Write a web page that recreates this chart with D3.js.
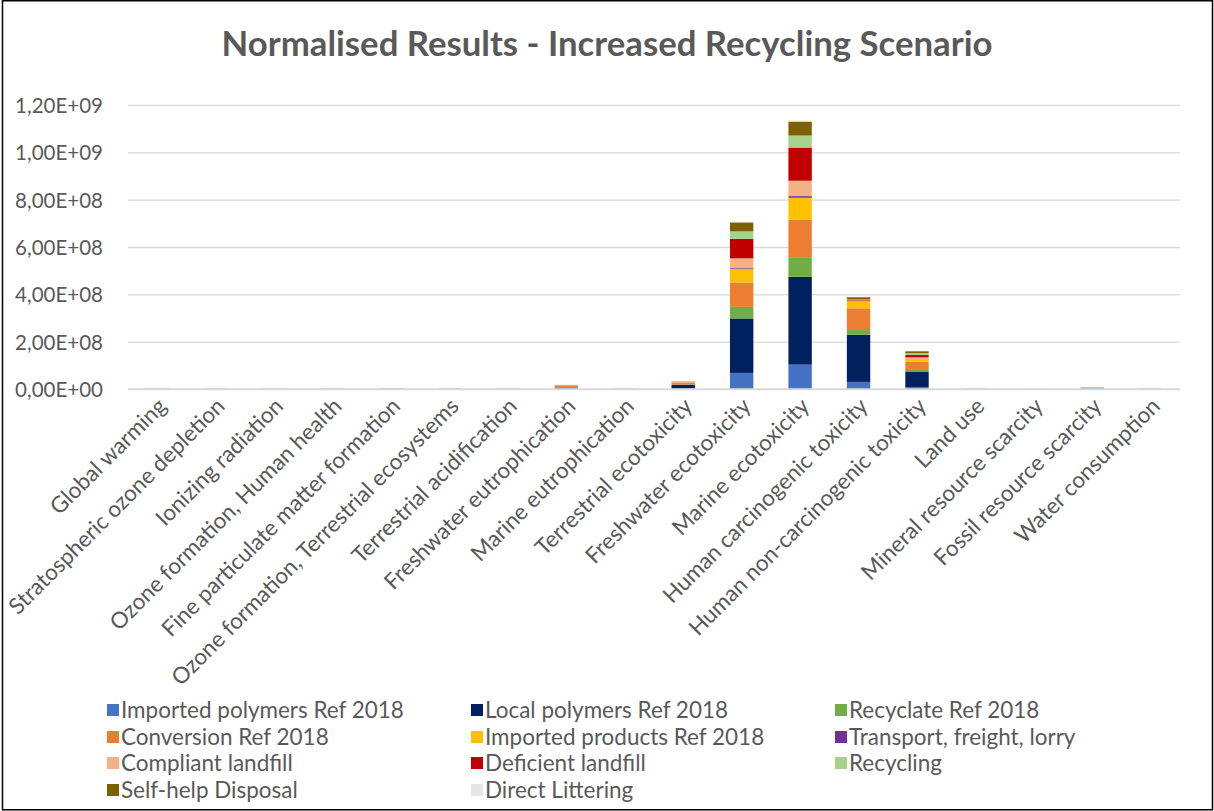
<!DOCTYPE html>
<html>
<head>
<meta charset="utf-8">
<script src="https://cdn.jsdelivr.net/npm/d3@7"></script>
<style>
  html, body { margin: 0; padding: 0; background: #fff; }
  svg { display: block; }
</style>
</head>
<body>
<svg id="chart" width="1214" height="811"></svg>
<script>
// ---------------- DATA ----------------
const categories = [
  "Global warming",
  "Stratospheric ozone depletion",
  "Ionizing radiation",
  "Ozone formation, Human health",
  "Fine particulate matter formation",
  "Ozone formation, Terrestrial ecosystems",
  "Terrestrial acidification",
  "Freshwater eutrophication",
  "Marine eutrophication",
  "Terrestrial ecotoxicity",
  "Freshwater ecotoxicity",
  "Marine ecotoxicity",
  "Human carcinogenic toxicity",
  "Human non-carcinogenic toxicity",
  "Land use",
  "Mineral resource scarcity",
  "Fossil resource scarcity",
  "Water consumption"
];

const seriesNames = [
  "Imported polymers Ref 2018",
  "Local polymers Ref 2018",
  "Recyclate Ref 2018",
  "Conversion Ref 2018",
  "Imported products Ref 2018",
  "Transport, freight, lorry",
  "Compliant landfill",
  "Deficient landfill",
  "Recycling",
  "Self-help Disposal",
  "Direct Littering"
];

const seriesColors = [
  "#4472C4", "#002060", "#70AD47", "#ED7D31", "#FFC000", "#7030A0",
  "#F4B183", "#C00000", "#A9D18E", "#7F6000", "#E7E6E6"
];

// values per series, one per category (same order as categories)
const importedPolymers = [3e5, 2e5, 1e5, 3e5, 4e5, 3e5, 3e5, 2e6, 2e5, 4.2e6, 6.8e7, 1.03e8, 3.0e7, 0.8e7, 2e5, 1e5, 8e5, 2e5];
const localPolymers    = [6e5, 4e5, 3e5, 6e5, 8e5, 6e5, 6e5, 4e6, 4e5, 1.4e7, 2.30e8, 3.71e8, 1.99e8, 6.6e7, 4e5, 1e5, 2e6, 5e5];
const recyclate        = [1e5, 1e5, 1e5, 1e5, 2e5, 1e5, 1e5, 1e6, 1e5, 1e6, 4.9e7, 8.0e7, 2.0e7, 1.0e7, 1e5, 0, 3e5, 1e5];
const conversion       = [5e5, 3e5, 2e5, 5e5, 7e5, 5e5, 5e5, 8e6, 3e5, 8e6, 1.03e8, 1.61e8, 9.2e7, 3.1e7, 3e5, 1e5, 1.5e6, 5e5];
const importedProducts = [2e5, 2e5, 1e5, 2e5, 3e5, 2e5, 2e5, 1e6, 2e5, 1e6, 5.8e7, 9.3e7, 3.0e7, 1.1e7, 2e5, 1e5, 6e5, 2e5];
const transport        = [5e4, 2e4, 1e4, 5e4, 5e4, 5e4, 5e4, 1e5, 5e4, 2e5, 3e6, 7e6, 1e6, 5e5, 2e4, 1e4, 1e5, 2e4];
const compliantLandfill= [1e5, 1e5, 1e5, 1e5, 2e5, 1e5, 1e5, 3e5, 2e5, 2e6, 4.1e7, 6.5e7, 2e6, 7e6, 2e5, 0, 2e5, 1e5];
const deficientLandfill= [1e5, 1e5, 1e5, 1e5, 2e5, 1e5, 1e5, 3e5, 2e5, 5e5, 8.3e7, 1.40e8, 2e6, 1.0e7, 2e5, 0, 2e5, 1e5];
const recycling        = [5e4, 5e4, 5e4, 5e4, 1e5, 5e4, 5e4, 2e5, 1e5, 3e5, 3.1e7, 5.1e7, 2e6, 8e6, 1e5, 0, 2e5, 5e4];
const selfHelpDisposal = [1e5, 5e4, 5e4, 1e5, 1e5, 1e5, 1e5, 3e5, 1e5, 6e5, 3.8e7, 5.9e7, 1.0e7, 8e6, 1e5, 0, 8e5, 5e4];
const directLittering  = [0, 0, 0, 0, 0, 0, 0, 0, 0, 0, 3e6, 4e6, 1e6, 5e5, 0, 0, 0, 0];

const seriesValues = [
  importedPolymers, localPolymers, recyclate, conversion, importedProducts,
  transport, compliantLandfill, deficientLandfill, recycling, selfHelpDisposal, directLittering
];

const yTicks = [0, 2e8, 4e8, 6e8, 8e8, 1e9, 1.2e9];
const titleText = "Normalised Results - Increased Recycling Scenario";

// ---------------- LAYOUT ----------------
const svg = d3.select("#chart");
const W = 1214, H = 811;
const plot = { left: 128, right: 1180, top: 105, bottom: 389 };
const textColor = "#595959";
const fontFam = "Lato, 'Open Sans', 'Noto Sans', sans-serif";

// fit a font size so that the given string reaches a target width
function fitSize(str, targetWidth, weight) {
  const t = svg.append("text").attr("font-family", fontFam)
    .attr("font-size", 100).attr("font-weight", weight || "normal").text(str);
  const w = t.node().getComputedTextLength();
  t.remove();
  return 100 * targetWidth / w;
}

svg.append("rect").attr("x", 0).attr("y", 0).attr("width", W).attr("height", H).attr("fill", "#fff");

const x = d3.scaleBand().domain(categories)
  .range([plot.left, plot.right]).paddingInner(0.6).paddingOuter(0.3);
const y = d3.scaleLinear().domain([0, 1.2e9]).range([plot.bottom, plot.top]);

function fmtExp(v) {
  const [m, e] = v.toExponential(2).split("e");
  const sign = e[0] === "-" ? "-" : "+";
  const ev = Math.abs(+e);
  return m.replace(".", ",") + "E" + sign + (ev < 10 ? "0" + ev : ev);
}

// gridlines
const yAxisGrid = d3.axisLeft(y).tickValues(yTicks).tickSize(-(plot.right - plot.left)).tickFormat("");
const gGrid = svg.append("g").attr("transform", `translate(${plot.left},0)`).call(yAxisGrid);
gGrid.select(".domain").remove();
gGrid.selectAll("line").attr("stroke", "#d9d9d9").attr("stroke-width", 1.3);

// y tick labels
const yFont = fitSize("1,20E+09", 88);
const yAxis = d3.axisLeft(y).tickValues(yTicks).tickSize(0).tickPadding(25).tickFormat(fmtExp);
const gY = svg.append("g").attr("transform", `translate(${plot.left},0)`).call(yAxis);
gY.select(".domain").remove();
gY.selectAll("text").attr("font-family", fontFam).attr("font-size", yFont)
  .attr("fill", textColor).attr("dy", "0.36em");

// stacked data
const rows = categories.map((c, i) => {
  const r = { category: c };
  seriesNames.forEach((s, k) => r[s] = seriesValues[k][i]);
  return r;
});
const stack = d3.stack().keys(seriesNames);
const stacked = stack(rows);
const color = d3.scaleOrdinal().domain(seriesNames).range(seriesColors);

svg.append("g").selectAll("g").data(stacked).join("g")
  .attr("fill", d => color(d.key))
  .selectAll("rect").data(d => d).join("rect")
  .attr("x", d => x(d.data.category))
  .attr("width", x.bandwidth())
  .attr("y", d => y(d[1]))
  .attr("height", d => Math.max(0, y(d[0]) - y(d[1])));

// x axis line (light, same as grid at zero)
svg.append("line").attr("x1", plot.left).attr("x2", plot.right)
  .attr("y1", y(0)).attr("y2", y(0)).attr("stroke", "#d9d9d9").attr("stroke-width", 1.3);

// x labels
const xFont = fitSize("Ozone formation, Terrestrial ecosystems", 395);
const xAxis = d3.axisBottom(x).tickSize(0).tickPadding(0);
const gX = svg.append("g").attr("transform", `translate(0,${plot.bottom})`).call(xAxis);
gX.select(".domain").remove();
gX.selectAll("text")
  .attr("font-family", fontFam).attr("font-size", xFont).attr("fill", textColor)
  .attr("text-anchor", "end")
  .attr("dy", "0.35em").attr("y", 0)
  .attr("transform", "translate(5,13) rotate(-45)");

// title
const tFont = fitSize(titleText, 771, "bold");
svg.append("text").attr("x", 607).attr("y", 56)
  .attr("text-anchor", "middle").attr("font-family", fontFam)
  .attr("font-weight", "bold").attr("font-size", tFont).attr("fill", textColor)
  .text(titleText);

// legend
const lFont = fitSize("Imported polymers Ref 2018", 283);
const legCols = [107, 471, 835];
const legRows = [710, 737, 763, 790];
const leg = svg.append("g");
seriesNames.forEach((s, i) => {
  const cx = legCols[i % 3], cy = legRows[Math.floor(i / 3)];
  leg.append("rect").attr("x", cx).attr("y", cy - 6).attr("width", 12).attr("height", 12)
    .attr("fill", color(s));
  leg.append("text").attr("x", cx + 14).attr("y", cy).attr("dy", "0.35em")
    .attr("font-family", fontFam).attr("font-size", lFont).attr("fill", textColor).text(s);
});

// frame
svg.append("rect").attr("x", 2.5).attr("y", 0.75).attr("width", 1210).attr("height", 809)
  .attr("fill", "none").attr("stroke", "#000").attr("stroke-width", 1.5);
</script>
</body>
</html>
